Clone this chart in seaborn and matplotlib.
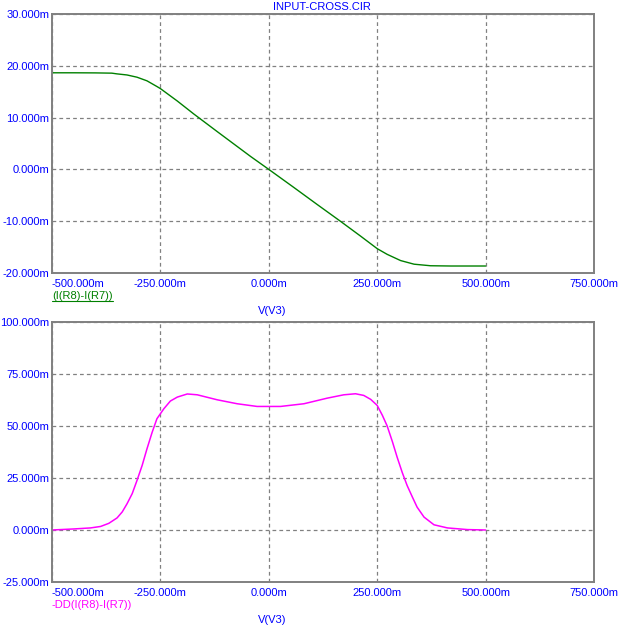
import matplotlib
matplotlib.use("Agg")
import matplotlib.pyplot as plt
import seaborn as sns
import pandas as pd
from matplotlib.lines import Line2D

# ---- data (x in mV, y in milli-units) ----
top_x = [-500, -450, -400, -362, -350, -327, -304, -281, -258, -250, -211, -173, -119, -42, 0,
         58, 112, 165, 212, 250, 273, 304, 335, 373, 420, 460, 500]
top_y = [18.65, 18.65, 18.63, 18.58, 18.44, 18.23, 17.8, 17.1, 16.0, 15.6, 13.2, 10.7, 7.3, 2.5, 0.0,
         -3.5, -6.8, -10.0, -12.9, -15.3, -16.4, -17.6, -18.3, -18.6, -18.65, -18.65, -18.65]

bot_x = [-500, -450, -411, -388, -369, -350, -338, -327, -315, -304, -292, -281, -269,
         -258, -242, -227, -211, -188, -165, -119, -73, -27, 27, 81, 135, 173, 200, 219,
         235, 250, 262, 273, 285, 296, 308, 319, 331, 342, 358, 381, 412, 458, 500]
bot_y = [0, 0.5, 1.0, 1.7, 3.2, 5.8, 8.7, 12.6, 17.5, 23.8, 31.1, 39, 47,
         53.5, 58.3, 62, 63.9, 65.4, 65, 62.6, 60.7, 59.4, 59.4, 60.7, 63.4, 65, 65.5, 64.7,
         62.8, 59.9, 55.1, 50, 42.5, 35, 27.5, 21.4, 15.9, 11, 6.2, 2.5, 1.0, 0.2, 0]

x_ticks = [-500, -250, 0, 250, 500, 750]
top_yticks = [-20, -10, 0, 10, 20, 30]
bot_yticks = [-25, 0, 25, 50, 75, 100]

title = "INPUT-CROSS.CIR"
top_label = "(I(R8)-I(R7))"
bot_label = "-DD(I(R8)-I(R7))"
x_label = "V(V3)"

sns.set_theme(style="white")
plt.rcParams["font.family"] = ["Liberation Sans", "DejaVu Sans"]

W, H = 623, 630
fig = plt.figure(figsize=(W / 100, H / 100), dpi=100)
fig.patch.set_facecolor("white")

BLUE = "#0000FF"
GREY = "#808080"

def fx(px):
    return px / W

def fy(py):
    return 1 - py / H

ax1 = fig.add_axes([fx(52), fy(273), fx(594) - fx(52), fy(14) - fy(273)])
ax2 = fig.add_axes([fx(52), fy(582), fx(594) - fx(52), fy(322) - fy(582)])

df_top = pd.DataFrame({"x": top_x, "y": top_y})
df_bot = pd.DataFrame({"x": bot_x, "y": bot_y})
sns.lineplot(data=df_top, x="x", y="y", ax=ax1, color="#008000", lw=1.0, sort=False)
sns.lineplot(data=df_bot, x="x", y="y", ax=ax2, color="#FF00FF", lw=1.1, sort=False)

for ax, yt in ((ax1, top_yticks), (ax2, bot_yticks)):
    ax.set_xlim(-500, 750)
    ax.set_ylim(yt[0], yt[-1])
    ax.set_xticks(x_ticks)
    ax.set_yticks(yt)
    ax.set_xticklabels(["%.3fm" % v for v in x_ticks])
    ax.set_yticklabels(["%.3fm" % v for v in yt])
    ax.get_xticklabels()[0].set_ha("left")
    ax.tick_params(axis="both", length=0, labelsize=8, labelcolor=BLUE)
    ax.tick_params(axis="x", pad=4)
    ax.tick_params(axis="y", pad=2)
    ax.grid(True, color=GREY, linestyle=(0, (3, 2.5)), lw=0.9)
    ax.set_xlabel("")
    ax.set_ylabel("")
    ax.set_facecolor("white")
    for s in ax.spines.values():
        s.set_color(GREY)
        s.set_linewidth(1.4)
        s.set_visible(True)

fig.text(fx(322), fy(7), title, color=BLUE, fontsize=8, ha="center", va="center")
t1 = fig.text(fx(52), fy(296), top_label, color="#008000", fontsize=8, ha="left", va="center")
fig.text(fx(272), fy(311), x_label, color=BLUE, fontsize=8, ha="center", va="center")
fig.text(fx(52), fy(605), bot_label, color="#FF00FF", fontsize=8, ha="left", va="center")
fig.text(fx(272), fy(620), x_label, color=BLUE, fontsize=8, ha="center", va="center")

# underline for the top trace label
fig.canvas.draw()
bb = t1.get_window_extent(fig.canvas.get_renderer())
fig.add_artist(Line2D([bb.x0 / W, bb.x1 / W], [(bb.y0 + 0.5) / H, (bb.y0 + 0.5) / H],
                      transform=fig.transFigure, color="#008000", lw=0.8))

fig.savefig("out.png", dpi=100)
